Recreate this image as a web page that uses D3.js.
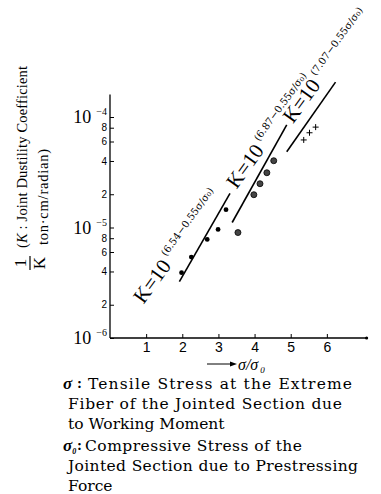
<!DOCTYPE html>
<html>
<head>
<meta charset="utf-8">
<script src="https://cdn.jsdelivr.net/npm/d3@7"></script>
<style>
  body { margin: 0; background: #fff; }
  svg { display: block; font-family: "Liberation Serif", "DejaVu Serif", serif; }
  .cent { font-family: "DejaVu Serif", serif; }
</style>
</head>
<body>
<script>
// values: x = sigma/sigma0, y = 1/K
const s1X = [1.98, 2.25, 2.69, 2.99, 3.21];
const s1Y = [3.9e-6, 5.4e-6, 7.8e-6, 9.6e-6, 1.45e-5];
const s2X = [3.54, 3.98, 4.15, 4.34, 4.53];
const s2Y = [9.0e-6, 1.98e-5, 2.49e-5, 3.13e-5, 4.02e-5];
const s3X = [5.36, 5.52, 5.69];
const s3Y = [6.2e-5, 7.2e-5, 8.1e-5];

// fitted lines (end points) and their exponents
const fitX = [[1.92, 3.32], [3.38, 4.89], [4.89, 6.24]];
const fitY = [[3.24e-6, 2.04e-5], [1.11e-5, 8.5e-5], [4.84e-5, 2.07e-4]];
const fitExp = ["(6.54−0.55σ/σ₀)", "(6.87−0.55σ/σ₀)", "(7.07−0.55σ/σ₀)"];

const xTicks = [1, 2, 3, 4, 5, 6];
const xTickLabels = ["1", "2", "3", "4", "5", "6"];
const yMajor = [1e-4, 1e-5, 1e-6];
const yMajorExp = ["−4", "−5", "−6"];
const yMinor = [8e-5, 6e-5, 4e-5, 2e-5, 8e-6, 6e-6, 4e-6, 2e-6];
const yMinorLabels = ["8", "6", "4", "2", "8", "6", "4", "2"];

const yTitle = ["(", "K", " : Joint Dustility Coefficient"];
const yTitle2 = "ton·cm/radian)";
const noteSyms = ["σ", "σ"];
const noteSubs = ["", "0"];
const notes = [
  ["Tensile Stress at the Extreme", "Fiber of the Jointed Section due", "to Working Moment"],
  ["Compressive Stress of the", "Jointed Section due to Prestressing", "Force"]
];

const width = 381, height = 494;
const svg = d3.select("body").append("svg")
  .attr("width", width)
  .attr("height", height);

const x = d3.scaleLinear().domain([0, 7]).range([110, 363]);
const y = d3.scaleLog().domain([1e-6, 1e-4]).range([338, 117]);

// axes
svg.append("line")
  .attr("x1", x(0)).attr("x2", x(0))
  .attr("y1", y(1e-6)).attr("y2", y(1.6e-4))
  .attr("stroke", "#000").attr("stroke-width", 1.3);
svg.append("line")
  .attr("x1", x(0)).attr("x2", x(7.1))
  .attr("y1", y(1e-6)).attr("y2", y(1e-6))
  .attr("stroke", "#000").attr("stroke-width", 1.3);
svg.append("circle")
  .attr("cx", x(7.1)).attr("cy", y(1e-6)).attr("r", 1.6).attr("fill", "#000");

const xAxis = d3.axisBottom(x)
  .tickValues(xTicks)
  .tickSizeInner(-4)
  .tickSizeOuter(0)
  .tickPadding(4)
  .tickFormat((d, i) => xTickLabels[i]);
svg.append("g")
  .attr("transform", `translate(0,${y(1e-6)})`)
  .call(xAxis)
  .call(g => g.select(".domain").remove())
  .call(g => g.selectAll("text").attr("font-size", 14).attr("font-family", null))
  .call(g => g.selectAll("line").attr("stroke-width", 1));

const yAxis = d3.axisLeft(y)
  .tickValues(yMinor.concat(yMajor))
  .tickSizeInner(-4)
  .tickSizeOuter(0)
  .tickPadding(3)
  .tickFormat((d, i) => i < yMinorLabels.length ? yMinorLabels[i] : "");
svg.append("g")
  .attr("transform", `translate(${x(0)},0)`)
  .call(yAxis)
  .call(g => g.select(".domain").remove())
  .call(g => g.selectAll("text").attr("font-size", 10).attr("font-family", null))
  .call(g => g.selectAll("line").attr("stroke-width", 1));

// decade labels 10^-n
const major = svg.append("g").selectAll("text")
  .data(yMajor)
  .join("text")
  .attr("x", x(0) - 3)
  .attr("y", d => y(d) + 6)
  .attr("text-anchor", "end");
major.append("tspan").attr("font-size", 18).text("10");
major.append("tspan").attr("font-size", 10).attr("dx", 5).attr("dy", -8)
  .text((d, i) => yMajorExp[i]);

// fitted lines
svg.append("g").selectAll("line")
  .data(fitX)
  .join("line")
  .attr("x1", d => x(d[0])).attr("x2", d => x(d[1]))
  .attr("y1", (d, i) => y(fitY[i][0])).attr("y2", (d, i) => y(fitY[i][1]))
  .attr("stroke", "#000").attr("stroke-width", 1.6);

// K=10^(...) labels, anchored in data space
const labelX = [0.93, 3.5, 5.06];
const labelY = [2.0e-6, 2.2e-5, 8.6e-5];
const lab = svg.append("g").selectAll("text")
  .data(fitExp)
  .join("text")
  .attr("transform", (d, i) => `translate(${x(labelX[i])},${y(labelY[i])}) rotate(-54)`);
lab.append("tspan").attr("font-size", 21).text("K=10");
lab.append("tspan").attr("class", "cent").attr("font-size", 10)
  .attr("dx", 4).attr("dy", -10).text(d => d);

// points
svg.append("g").selectAll("circle")
  .data(s1X)
  .join("circle")
  .attr("cx", d => x(d)).attr("cy", (d, i) => y(s1Y[i]))
  .attr("r", 2.4).attr("fill", "#000");
svg.append("g").selectAll("circle")
  .data(s2X)
  .join("circle")
  .attr("cx", d => x(d)).attr("cy", (d, i) => y(s2Y[i]))
  .attr("r", 3).attr("fill", "#444").attr("stroke", "#000").attr("stroke-width", 0.8);
svg.append("g").selectAll("path")
  .data(s3X)
  .join("path")
  .attr("d", (d, i) => {
    const cx = x(d), cy = y(s3Y[i]);
    return `M${cx - 3},${cy}H${cx + 3}M${cx},${cy - 3}V${cy + 3}`;
  })
  .attr("stroke", "#000").attr("stroke-width", 1);

// x title with arrow
svg.append("line")
  .attr("x1", 207).attr("x2", 234).attr("y1", 364).attr("y2", 364)
  .attr("stroke", "#000").attr("stroke-width", 1);
svg.append("path").attr("d", "M237,364 l-7,-2.5 v5 z").attr("fill", "#000");
const xt = svg.append("text").attr("x", 238).attr("y", 370)
  .attr("font-size", 16).attr("font-style", "italic");
xt.append("tspan").text("σ/σ");
xt.append("tspan").attr("font-size", 9).attr("dx", 2).attr("dy", 3).text("0");

// y title, rotated
const yt = svg.append("text")
  .attr("transform", "translate(27,248) rotate(-90)")
  .attr("font-size", 14.5)
  .attr("textLength", 182).attr("lengthAdjust", "spacing");
yt.selectAll("tspan").data(yTitle).join("tspan")
  .attr("font-style", (d, i) => i === 1 ? "italic" : null)
  .text(d => d);
svg.append("text")
  .attr("transform", "translate(48,245) rotate(-90)")
  .attr("font-size", 14.5)
  .attr("textLength", 96).attr("lengthAdjust", "spacing")
  .text(yTitle2);
const frac = svg.append("g").attr("transform", "translate(30,263) rotate(-90)");
frac.append("text").attr("text-anchor", "middle").attr("y", -4)
  .attr("font-size", 17).text("1");
frac.append("line").attr("x1", -7).attr("x2", 7)
  .attr("stroke", "#000").attr("stroke-width", 1.2);
frac.append("text").attr("text-anchor", "middle").attr("y", 15)
  .attr("font-size", 17).text("K");

// notes below the chart
const noteTop = [389, 451];
const noteW = [[264, 274, null], [217, 290, null]];
notes.forEach((lines, k) => {
  const s = svg.append("text").attr("x", 63).attr("y", noteTop[k])
    .attr("font-size", 17).attr("font-style", "italic").attr("font-weight", "bold");
  s.append("tspan").text(noteSyms[k]);
  s.append("tspan").attr("font-size", 8).attr("dy", 3).text(noteSubs[k]);
  svg.append("text").attr("x", 77).attr("y", noteTop[k] - 1)
    .attr("font-size", 15).attr("font-weight", "bold").text(":");
  lines.forEach((t, j) => {
    const line = svg.append("text")
      .attr("class", "cent")
      .attr("x", j === 0 ? (k === 0 ? 88 : 85) : 68)
      .attr("y", noteTop[k] + j * 20)
      .attr("font-size", 15.5)
      .text(t);
    if (noteW[k][j]) line.attr("textLength", noteW[k][j]).attr("lengthAdjust", "spacing");
  });
});
</script>
</body>
</html>
